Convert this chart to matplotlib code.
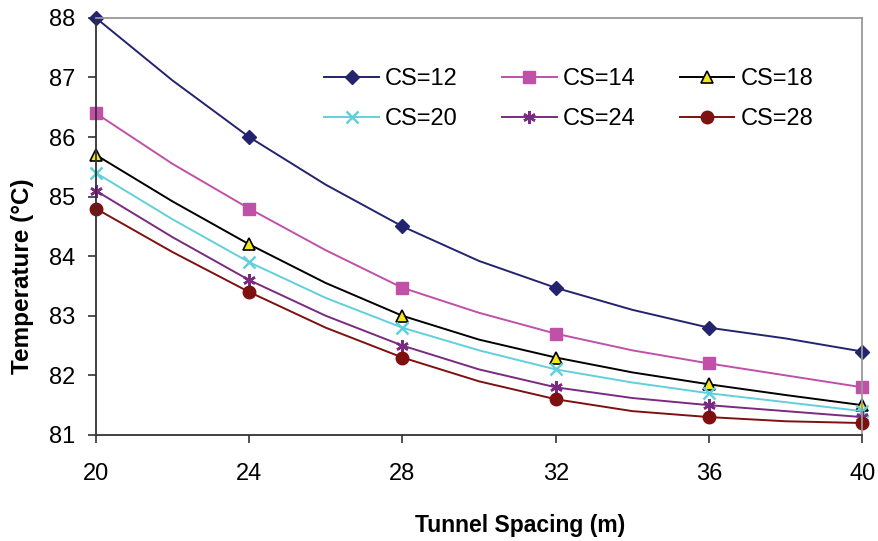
import numpy as np
import matplotlib
matplotlib.use('Agg')
import matplotlib.pyplot as plt

plt.rcParams['font.family'] = ['Liberation Sans', 'DejaVu Sans']

# tunnel spacing (m); markers drawn every 4 m
spacing = [20, 22, 24, 26, 28, 30, 32, 34, 36, 38, 40]
xticks = [20, 24, 28, 32, 36, 40]

cs12 = [88.0, 86.95, 86.0, 85.2, 84.5, 83.92, 83.47, 83.1, 82.8, 82.62, 82.4]
cs14 = [86.4, 85.55, 84.8, 84.1, 83.47, 83.05, 82.7, 82.42, 82.2, 82.0, 81.8]
cs18 = [85.7, 84.92, 84.2, 83.55, 83.0, 82.6, 82.3, 82.05, 81.85, 81.67, 81.5]
cs20 = [85.4, 84.62, 83.9, 83.3, 82.8, 82.42, 82.1, 81.88, 81.7, 81.55, 81.4]
cs24 = [85.1, 84.32, 83.6, 83.0, 82.5, 82.1, 81.8, 81.62, 81.5, 81.4, 81.3]
cs28 = [84.8, 84.07, 83.4, 82.8, 82.3, 81.9, 81.6, 81.4, 81.3, 81.23, 81.2]

fig = plt.figure(figsize=(8.79, 5.41), dpi=100)
ax = fig.add_axes([0.109, 0.196, 0.872, 0.771])

mk = dict(markevery=2, lw=1.4, ms=9, clip_on=False)
l12, = ax.plot(spacing, cs12, color='#23236f', marker='D', ms=7, label='CS=12',
               markevery=2, lw=1.4, clip_on=False)
l14, = ax.plot(spacing, cs14, color='#c050a8', marker='s', label='CS=14', **mk)
l18, = ax.plot(spacing, cs18, color='black', marker='^', mfc='#f2e61c', mec='black',
               mew=1.2, label='CS=18', **mk)
l20, = ax.plot(spacing, cs20, color='#62cfdc', marker='x', mew=1.8, label='CS=20', **mk)
l24, = ax.plot(spacing, cs24, color='#7a2a80', marker=(6, 2, 0), mew=1.8,
               label='CS=24', **mk)
l28, = ax.plot(spacing, cs28, color='#7f1010', marker='o', label='CS=28', **mk)

ax.set_xlim(20, 40)
ax.set_ylim(81, 88)
ax.set_xticks(xticks)
ax.set_yticks(range(81, 89))

ax.spines['top'].set_color('#999999')
ax.spines['right'].set_color('#999999')
ax.spines['left'].set_color('#333333')
ax.spines['bottom'].set_color('#333333')
for s in ax.spines.values():
    s.set_linewidth(1.3)

ax.tick_params(axis='both', direction='out', length=6, width=1.2,
               labelsize=17, color='#333333')
ax.tick_params(axis='x', pad=14)
ax.tick_params(axis='y', pad=9)

ax.set_xlabel('Tunnel Spacing (m)', fontsize=16.5, fontweight='bold')
ax.set_ylabel('Temperature (°C)', fontsize=17.5, fontweight='bold')
ax.xaxis.set_label_coords(0.553, -0.19)
ax.yaxis.set_label_coords(-0.081, 0.381)

# row-major order like the original legend
hs = [l12, l20, l14, l24, l18, l28]
ax.legend(hs, [h.get_label() for h in hs], ncol=3, frameon=False, fontsize=17,
          loc='center', bbox_to_anchor=(0.617, 0.805), handlelength=2.3,
          columnspacing=1.9, handletextpad=0.25, labelspacing=0.75)

fig.savefig('out.png', dpi=100)
